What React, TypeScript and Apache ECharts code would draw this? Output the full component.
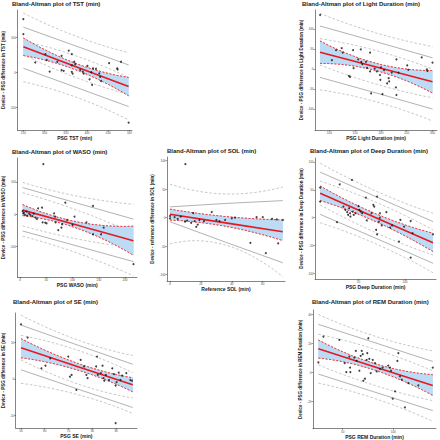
import React, { useEffect, useRef } from "react";
import * as echarts from "echarts";

// ---------- TST ----------
const TST_POINTS: number[][] = [[250,153],[250,110],[278,29],[302,53],[305,36],[312,3],[330,31],[340,48],[345,5],[340,7],[357,63],[364,53],[364,21],[370,31],[372,24],[364,2],[366,-3],[384,8],[390,3],[392,-3],[401,19],[410,1],[406,-19],[414,12],[421,11],[412,-35],[429,-2],[431,-12],[433,-24],[452,27],[471,12],[472,9],[480,31],[498,-143]];
const TST_X3 = [250, 374, 498];
const TST_BIAS = [74, 17, -40];
const TST_BAND_HI = [99, 26, -14];
const TST_BAND_LO = [49, 8, -66];
const TST_LOA_UP = [130, 76, 22];
const TST_LOA_LO = [12.5, -42, -97];
const TST_UP_OUT = [170, 104, 57];
const TST_UP_IN = [90, 48, -14];
const TST_LO_IN = [51, -14, -62];
const TST_LO_OUT = [-26, -70, -135];
const TST_X_TICKS = [250, 300, 350, 400, 450, 500];
const TST_Y_TICKS = [-100, 0, 100];

// ---------- Light ----------
const LIGHT_POINTS: number[][] = [[82,135],[105,22],[113,47],[124,52],[126,41],[138,-17],[140,-20],[146,47],[147,2],[156,24],[161,49],[162,18],[164,12],[171,18],[173,3],[179,41],[179,-6],[181,-61],[188,1],[192,-6],[198,-15],[199,-27],[200,4],[203,-63],[206,-3],[212,-36],[215,-23],[216,-31],[221,-9],[229,-46],[230,-65],[230,24],[234,-9],[251,9],[253,-2],[279,29],[289,-1],[290,-5],[300,16]];
const LIGHT_X3 = [82, 191, 300];
const LIGHT_BIAS = [42, 5, -32];
const LIGHT_BAND_HI = [70, 14, -4];
const LIGHT_BAND_LO = [14, -4, -60];
const LIGHT_LOA_UP = [107.5, 68, 28];
const LIGHT_LOA_LO = [-21, -60, -100];
const LIGHT_UP_OUT = [139, 90, 56];
const LIGHT_UP_IN = [76, 46, 0];
const LIGHT_LO_IN = [10, -38, -72];
const LIGHT_LO_OUT = [-52, -82, -130];
const LIGHT_X_TICKS = [100, 150, 200, 250, 300];
const LIGHT_Y_TICKS = [-100, -50, 0, 50, 100];

// ---------- WASO ----------
const WASO_POINTS: number[][] = [[4.9,10.2],[6.1,3],[7.4,5],[9.2,-2],[12.3,8],[13.5,-4.3],[17.2,2],[19.7,-2],[23.4,-6],[25.9,2],[29.6,-10.5],[32,-14.6],[34.5,18.6],[41.9,20.5],[44.4,156],[43,-25],[48,-26],[50.5,-28],[64.8,3],[66.7,-7.5],[67.8,-25],[72.8,-49],[78.9,-41.6],[80.2,-31],[86.3,36],[89.4,-17.7],[100,-33],[103.7,-7.5],[126.5,-25],[138.9,25.8],[138.9,-62],[154.3,-62],[159.3,-41.6],[216,-155]];
const WASO_X3 = [5, 110, 216];
const WASO_BIAS = [13, -34, -82];
const WASO_BAND_HI = [30, -24, -37];
const WASO_BAND_LO = [-4, -44, -127];
const WASO_LOA_UP = [83, 34, -15];
const WASO_LOA_LO = [-52, -99, -147];
const WASO_UP_OUT = [99, 56, 31];
const WASO_UP_IN = [67, 12, -59];
const WASO_LO_IN = [-36, -77, -103];
const WASO_LO_OUT = [-68, -121, -191];
const WASO_X_TICKS = [0, 50, 100, 150, 200];
const WASO_Y_TICKS = [-100, 0, 100];

// ---------- SOL ----------
const SOL_POINTS: number[][] = [[0,-1],[0,3],[3,1],[5,-2],[7,2],[9.7,-7],[10,94],[11,-5],[13.7,-9],[15,8],[16,-6],[17,-16],[18,-12],[19,-4],[22,-6],[27,10],[30,-4],[32,-6],[35.6,-4],[40,-1],[42,0],[52,-44],[56,1],[60,1],[62,-62],[66,-2],[69,-3],[70,-45],[73,-4]];
const SOL_X3 = [0, 36, 73];
const SOL_BIAS = [6, -9, -24.5];
const SOL_BAND_HI = [15, 2, -4];
const SOL_BAND_LO = [-4, -15, -40];
const SOL_LOA_UP = [19, 25, 30];
const SOL_LOA_LO = [-7, -43, -79];
const SOL_UP_OUT = [59, 41.6, 54];
const SOL_UP_IN: number[] = [];
const SOL_LO_IN: number[] = [];
const SOL_LO_OUT = [-46, -48, -103.5];
const SOL_X_TICKS = [0, 20, 40, 60];
const SOL_Y_TICKS = [-100, -50, 0, 50, 100];

// ---------- Deep ----------
const DEEP_POINTS: number[][] = [[9,54],[9,29],[27,-8],[30,60],[34,20],[36,14],[38,10],[39,5],[40,17],[41,8],[41.5,2],[43,68],[44,11],[45,5],[47,8],[50,21],[51,14],[52.5,11],[54,8],[58,36],[59,-5],[64,8],[66,23],[67,20],[70,38],[69,-22],[70,-30],[72,-7],[73,8],[73,0],[75,-14],[80,10],[84,-18],[86,-14],[93.5,-43],[95,-4],[99,-16],[106,-6],[106,-72],[108,-28],[130,-30]];
const DEEP_X3 = [9, 70, 130];
const DEEP_BIAS = [44, -1, -45];
const DEEP_BAND_HI = [57, 6, -28];
const DEEP_BAND_LO = [31, -8, -61];
const DEEP_LOA_UP = [82, 37, -7];
const DEEP_LOA_LO = [6, -38, -82];
const DEEP_UP_OUT = [98, 47, 8];
const DEEP_UP_IN = [66, 27, -22];
const DEEP_LO_IN = [23, -28, -67];
const DEEP_LO_OUT = [-9, -48, -99];
const DEEP_X_TICKS = [50, 100];
const DEEP_Y_TICKS = [-100, -50, 0, 50, 100];

// ---------- SE ----------
const SE_POINTS: number[][] = [[50,14.9],[52.8,11.3],[58.6,2.9],[60.3,3.6],[62.3,5.6],[69.9,6.1],[70.6,0.6],[71.3,1.1],[73.3,-3],[75.1,5.2],[76.5,3.4],[77.5,1.1],[78,0.2],[81.6,3.4],[82,6.1],[82.3,1.1],[83.6,1.6],[84.3,3.6],[84.7,0.2],[85,-0.5],[85.7,1.1],[87,-0.3],[88.4,2.9],[89.1,1.3],[89.8,-1.8],[90.2,-0.9],[91.1,1.7],[91.8,-0.3],[92.5,0.9],[94.3,1.6],[96,-0.3],[96.7,-0.5],[89.8,-12.1]];
const SE_X3 = [50, 74, 97];
const SE_BIAS = [8.5, 3.3, -1.6];
const SE_BAND_HI = [11, 4.2, 0.3];
const SE_BAND_LO = [5.8, 2.4, -3.5];
const SE_LOA_UP = [14.7, 9.2, 4.0];
const SE_LOA_LO = [2.5, -2.8, -7.8];
const SE_UP_OUT = [17.4, 10.6, 6.4];
const SE_UP_IN = [11.9, 7.8, 1.7];
const SE_LO_IN = [5.2, -1.4, -5.2];
const SE_LO_OUT = [-1.2, -4.3, -9.4];
const SE_X_TICKS = [50, 60, 70, 80, 90];
const SE_Y_TICKS = [-10, 0, 10];

// ---------- REM ----------
const REM_POINTS: number[][] = [[26,6.9],[31,24.7],[46.7,22.5],[52,6.4],[53.6,0.3],[56.6,11],[57.3,3.4],[57.6,0.3],[61.5,10.3],[63,14.9],[63.8,8],[66.5,1.2],[67.8,11.5],[68.8,14.9],[69.8,12.6],[70.4,-5.7],[72,-4.3],[73.7,8.7],[74.3,13.3],[75.3,23.6],[76.3,9.4],[77.7,-0.4],[79.7,8.7],[81.9,6.4],[83.6,0.7],[86.9,2.5],[89.5,3.4],[95,4.8],[96.7,3.4],[97.7,1.2],[99.4,-18.1],[101.7,-13],[104,8],[105,13.3],[106.6,-2.7],[108.3,-5],[111.5,-24],[114.8,-7.3],[124.7,-8.9],[139,3.4]];
const REM_X3 = [26, 82, 139];
const REM_BIAS = [16.3, 3.8, -8.9];
const REM_BAND_HI = [22.4, 6, -1.6];
const REM_BAND_LO = [10, 1.6, -15.8];
const REM_LOA_UP = [33.2, 20.5, 7.6];
const REM_LOA_LO = [-1.1, -13.6, -26.3];
const REM_UP_OUT = [40, 25, 14.9];
const REM_UP_IN = [26.4, 16, 1.2];
const REM_LO_IN = [5.3, -9, -19.4];
const REM_LO_OUT = [-7.3, -18, -33.6];
const REM_X_TICKS = [50, 100];
const REM_Y_TICKS = [-20, 0, 20, 40];

type Panel = {
  title: string; xName: string; yName: string;
  titleX: number; titleY: number;
  grid: { left: number; top: number; width: number; height: number };
  xMin: number; xMax: number; yMin: number; yMax: number;
  xGap: number; yGap: number;
  xTicks: number[]; yTicks: number[];
  points: number[][]; x3: number[]; bias: number[];
  bandHi: number[]; bandLo: number[]; loaUp: number[]; loaLo: number[];
  upOut: number[]; upIn: number[]; loIn: number[]; loOut: number[];
};

const PANELS: Panel[] = [
  { title: "Bland-Altman plot of TST (min)", xName: "PSG TST (min)", yName: "Device - PSG difference in TST (min)",
    titleX: 12, titleY: 1, grid: { left: 14, top: 10, width: 118, height: 120 },
    xMin: 236, xMax: 506, yMin: -164, yMax: 179, xGap: 4, yGap: 8,
    xTicks: TST_X_TICKS, yTicks: TST_Y_TICKS, points: TST_POINTS, x3: TST_X3, bias: TST_BIAS,
    bandHi: TST_BAND_HI, bandLo: TST_BAND_LO, loaUp: TST_LOA_UP, loaLo: TST_LOA_LO,
    upOut: TST_UP_OUT, upIn: TST_UP_IN, loIn: TST_LO_IN, loOut: TST_LO_OUT },
  { title: "Bland-Altman plot of Light Duration (min)", xName: "PSG Light Duration (min)", yName: "Device - PSG difference in Light Duration (min)",
    titleX: 302, titleY: 1, grid: { left: 315, top: 10, width: 122, height: 120 },
    xMin: 72.3, xMax: 308.7, yMin: -152.5, yMax: 147.5, xGap: 4, yGap: 9.5,
    xTicks: LIGHT_X_TICKS, yTicks: LIGHT_Y_TICKS, points: LIGHT_POINTS, x3: LIGHT_X3, bias: LIGHT_BIAS,
    bandHi: LIGHT_BAND_HI, bandLo: LIGHT_BAND_LO, loaUp: LIGHT_LOA_UP, loaLo: LIGHT_LOA_LO,
    upOut: LIGHT_UP_OUT, upIn: LIGHT_UP_IN, loIn: LIGHT_LO_IN, loOut: LIGHT_LO_OUT },
  { title: "Bland-Altman plot of WASO (min)", xName: "PSG WASO (min)", yName: "Device - PSG difference in WASO (min)",
    titleX: 12, titleY: 148.7, grid: { left: 14, top: 158, width: 123, height: 119 },
    xMin: -5, xMax: 222.8, yMin: -194.7, yMax: 174.8, xGap: 5, yGap: 8.5,
    xTicks: WASO_X_TICKS, yTicks: WASO_Y_TICKS, points: WASO_POINTS, x3: WASO_X3, bias: WASO_BIAS,
    bandHi: WASO_BAND_HI, bandLo: WASO_BAND_LO, loaUp: WASO_LOA_UP, loaLo: WASO_LOA_LO,
    upOut: WASO_UP_OUT, upIn: WASO_UP_IN, loIn: WASO_LO_IN, loOut: WASO_LO_OUT },
  { title: "Bland-Altman plot of SOL (min)", xName: "Reference SOL (min)", yName: "Device - reference difference in SOL (min)",
    titleX: 167, titleY: 148, grid: { left: 167, top: 157, width: 118, height: 124 },
    xMin: -1.9, xMax: 74.4, yMin: -111, yMax: 106.5, xGap: 3.5, yGap: 12.5,
    xTicks: SOL_X_TICKS, yTicks: SOL_Y_TICKS, points: SOL_POINTS, x3: SOL_X3, bias: SOL_BIAS,
    bandHi: SOL_BAND_HI, bandLo: SOL_BAND_LO, loaUp: SOL_LOA_UP, loaLo: SOL_LOA_LO,
    upOut: SOL_UP_OUT, upIn: SOL_UP_IN, loIn: SOL_LO_IN, loOut: SOL_LO_OUT },
  { title: "Bland-Altman plot of Deep Duration (min)", xName: "PSG Deep Duration (min)", yName: "Device - PSG difference in Deep Duration (min)",
    titleX: 310, titleY: 148, grid: { left: 315, top: 158, width: 121, height: 121 },
    xMin: 3.5, xMax: 133.2, yMin: -110.3, yMax: 107.4, xGap: 3.5, yGap: 11,
    xTicks: DEEP_X_TICKS, yTicks: DEEP_Y_TICKS, points: DEEP_POINTS, x3: DEEP_X3, bias: DEEP_BIAS,
    bandHi: DEEP_BAND_HI, bandLo: DEEP_BAND_LO, loaUp: DEEP_LOA_UP, loaLo: DEEP_LOA_LO,
    upOut: DEEP_UP_OUT, upIn: DEEP_UP_IN, loIn: DEEP_LO_IN, loOut: DEEP_LO_OUT },
  { title: "Bland-Altman plot of SE (min)", xName: "PSG SE (min)", yName: "Device - PSG difference in SE (min)",
    titleX: 13, titleY: 298.7, grid: { left: 13, top: 313, width: 124, height: 115 },
    xMin: 47.8, xMax: 98.8, yMin: -13.4, yMax: 18, xGap: 5.5, yGap: 7.5,
    xTicks: SE_X_TICKS, yTicks: SE_Y_TICKS, points: SE_POINTS, x3: SE_X3, bias: SE_BIAS,
    bandHi: SE_BAND_HI, bandLo: SE_BAND_LO, loaUp: SE_LOA_UP, loaLo: SE_LOA_LO,
    upOut: SE_UP_OUT, upIn: SE_UP_IN, loIn: SE_LO_IN, loOut: SE_LO_OUT },
  { title: "Bland-Altman plot of REM Duration (min)", xName: "PSG REM Duration (min)", yName: "Device - PSG difference in REM Duration (min)",
    titleX: 312, titleY: 298.7, grid: { left: 313, top: 310, width: 123, height: 119 },
    xMin: 20.7, xMax: 142.2, yMin: -38.7, yMax: 43.1, xGap: 3.5, yGap: 9,
    xTicks: REM_X_TICKS, yTicks: REM_Y_TICKS, points: REM_POINTS, x3: REM_X3, bias: REM_BIAS,
    bandHi: REM_BAND_HI, bandLo: REM_BAND_LO, loaUp: REM_LOA_UP, loaLo: REM_LOA_LO,
    upOut: REM_UP_OUT, upIn: REM_UP_IN, loIn: REM_LO_IN, loOut: REM_LO_OUT },
];

const FONT = "Liberation Sans, Arial, sans-serif";

// pixel points of the quadratic curve that passes through three pixel points
function curvePixels(p: number[][], steps = 16): number[][] {
  const [a, b, c] = p;
  const k = [2 * b[0] - (a[0] + c[0]) / 2, 2 * b[1] - (a[1] + c[1]) / 2];
  const out: number[][] = [];
  for (let s = 0; s <= steps; s++) {
    const t = s / steps, u = 1 - t;
    out.push([u * u * a[0] + 2 * u * t * k[0] + t * t * c[0], u * u * a[1] + 2 * u * t * k[1] + t * t * c[1]]);
  }
  return out;
}

function pair(xs: number[], ys: number[]) {
  return ys.map((y, k) => [xs[k], y]);
}

function buildOption() {
  const title: any[] = [];
  const grid: any[] = [];
  const xAxis: any[] = [];
  const yAxis: any[] = [];
  const series: any[] = [];
  const axisLine = { show: true, onZero: false, lineStyle: { color: "#333", width: 0.6 } };
  const axisTick = (vals: number[]) => ({ show: true, length: 1.5, lineStyle: { color: "#333", width: 0.5 }, customValues: vals });
  const axisLabel = (vals: number[], margin: number) => ({ customValues: vals, fontSize: 3, color: "#4d4d4d", margin, fontFamily: FONT });

  PANELS.forEach((p, i) => {
    title.push({ text: p.title, left: p.titleX, top: p.titleY, padding: 0,
      textStyle: { fontSize: 6, fontWeight: "bold", color: "#1a1a1a", fontFamily: FONT } });
    grid.push({ ...p.grid, containLabel: false });
    xAxis.push({ type: "value", gridIndex: i, min: p.xMin, max: p.xMax, splitLine: { show: false }, z: 10,
      axisLine, axisTick: axisTick(p.xTicks), axisLabel: axisLabel(p.xTicks, 1.5),
      name: p.xName, nameLocation: "middle", nameGap: p.xGap,
      nameTextStyle: { fontSize: 5, fontWeight: "bold", color: "#1a1a1a", fontFamily: FONT } });
    yAxis.push({ type: "value", gridIndex: i, min: p.yMin, max: p.yMax, splitLine: { show: false }, z: 10,
      axisLine, axisTick: axisTick(p.yTicks), axisLabel: axisLabel(p.yTicks, 1.5),
      name: p.yName, nameLocation: "middle", nameGap: p.yGap,
      nameTextStyle: { fontSize: 4.5, fontWeight: "bold", color: "#1a1a1a", fontFamily: FONT } });

    const ax = { xAxisIndex: i, yAxisIndex: i, silent: true };
    const curve = (api: any, ys: number[]) => curvePixels(pair(p.x3, ys).map((d) => api.coord(d)));

    series.push({ type: "custom", ...ax, clip: true, z: 1, data: [[p.x3[1], p.bias[1]]],
      renderItem: (_params: any, api: any) => {
        const up = curve(api, p.bandHi);
        const lo = curve(api, p.bandLo);
        const children: any[] = [
          { type: "polygon", shape: { points: up.concat(lo.slice().reverse()) }, style: { fill: "#bcdcf6" } },
        ];
        [p.upOut, p.upIn, p.loIn, p.loOut].forEach((arr) => {
          if (arr.length) children.push({ type: "polyline", shape: { points: curve(api, arr) },
            style: { fill: null, stroke: "#b8b8b8", lineWidth: 0.8, lineDash: [2.5, 2] } });
        });
        children.push({ type: "polyline", shape: { points: up }, style: { fill: null, stroke: "#f23c3c", lineWidth: 0.9, lineDash: [2, 1.6] } });
        children.push({ type: "polyline", shape: { points: lo }, style: { fill: null, stroke: "#f23c3c", lineWidth: 0.9, lineDash: [2, 1.6] } });
        return { type: "group", children };
      } });
    series.push({ type: "line", ...ax, symbol: "none", data: pair(p.x3, p.loaUp),
      lineStyle: { color: "#a9a9a9", width: 0.9 }, z: 2 });
    series.push({ type: "line", ...ax, symbol: "none", data: pair(p.x3, p.loaLo),
      lineStyle: { color: "#a9a9a9", width: 0.9 }, z: 2 });
    series.push({ type: "line", ...ax, symbol: "none", data: pair(p.x3, p.bias),
      lineStyle: { color: "#e8181e", width: 1.6 }, z: 4 });
    series.push({ type: "scatter", ...ax, data: p.points, symbolSize: 2, itemStyle: { color: "#111" }, z: 5 });
  });

  return { animation: false, backgroundColor: "#fff", textStyle: { fontFamily: FONT }, title, grid, xAxis, yAxis, series };
}

// second pass: bands placed through the grids' own scales (convertToPixel)
function bandGraphics(chart: any) {
  const elements: any[] = [];
  PANELS.forEach((p, i) => {
    const conv = (ys: number[]) => pair(p.x3, ys).map((d) => chart.convertToPixel({ gridIndex: i }, d));
    const hiPx = conv(p.bandHi);
    const loPx = conv(p.bandLo);
    const ok = hiPx.concat(loPx).every((q: any) => Array.isArray(q) && isFinite(q[0]) && isFinite(q[1]));
    if (!ok) return;
    const up = curvePixels(hiPx);
    const lo = curvePixels(loPx);
    elements.push({ type: "polygon", z: 1, silent: true, shape: { points: up.concat(lo.slice().reverse()) }, style: { fill: "#bcdcf6" } });
    elements.push({ type: "polyline", z: 1, silent: true, shape: { points: up }, style: { fill: null, stroke: "#f23c3c", lineWidth: 0.9, lineDash: [2, 1.6] } });
    elements.push({ type: "polyline", z: 1, silent: true, shape: { points: lo }, style: { fill: null, stroke: "#f23c3c", lineWidth: 0.9, lineDash: [2, 1.6] } });
  });
  return elements;
}

export default function App() {
  const ref = useRef<HTMLDivElement>(null);
  useEffect(() => {
    if (!ref.current) return;
    const chart = echarts.init(ref.current, undefined, { renderer: "svg" });
    chart.setOption(buildOption());
    try {
      chart.setOption({ graphic: { elements: bandGraphics(chart) } });
    } catch (e) {
      // keep the chart as drawn by the series
    }
    return () => chart.dispose();
  }, []);
  return <div ref={ref} style={{ position: "fixed", left: 0, top: 0, width: 440, height: 440, background: "#fff" }} />;
}
